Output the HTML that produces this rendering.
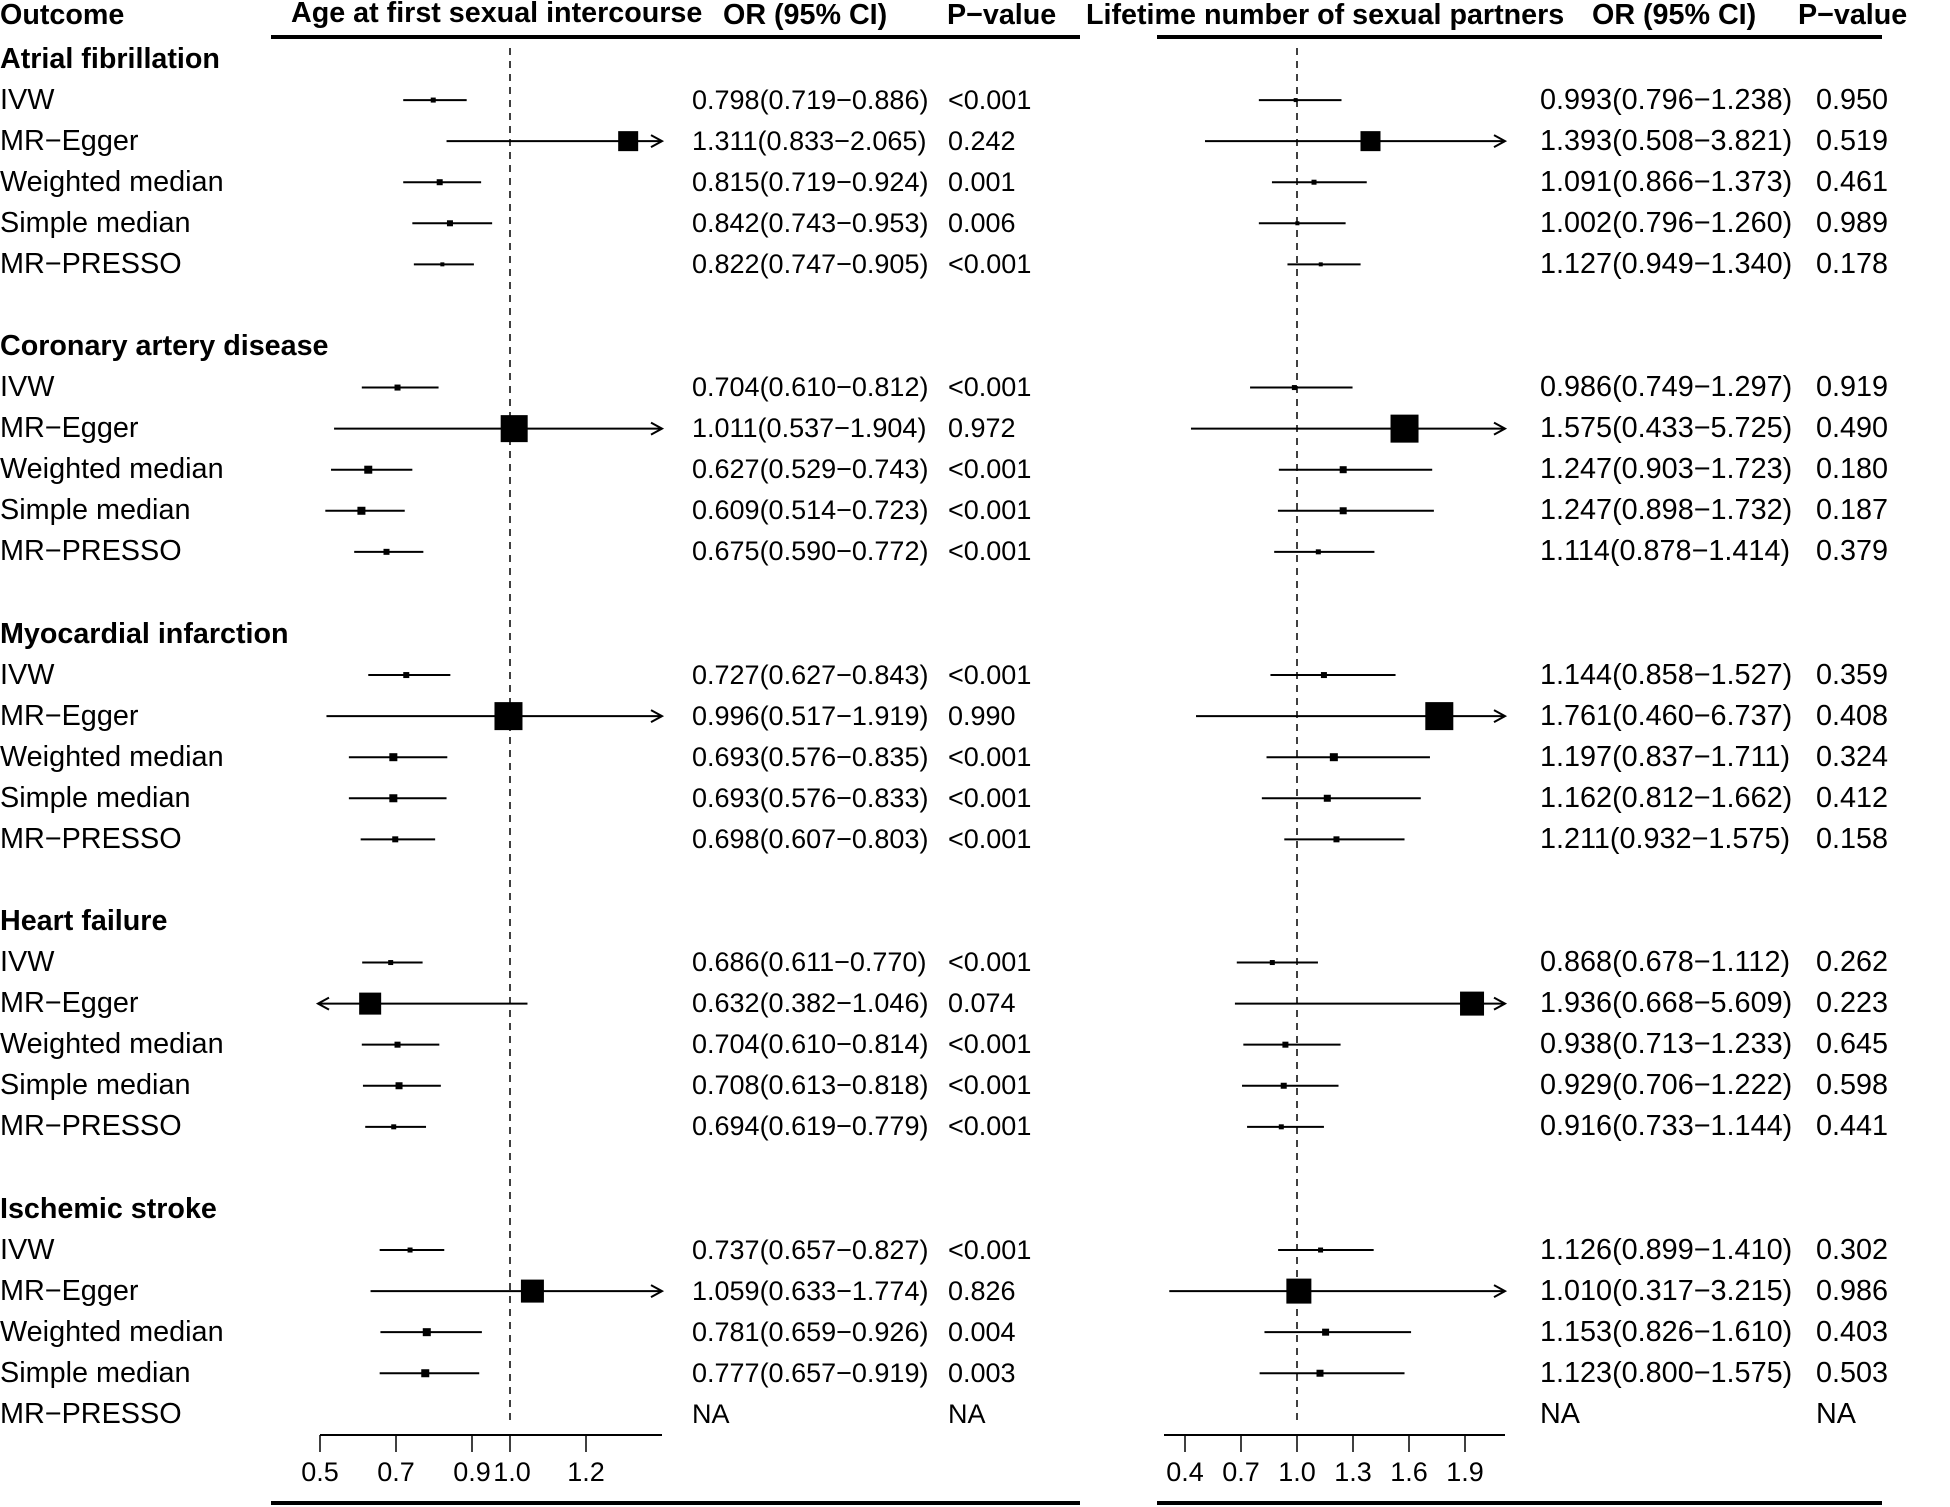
<!DOCTYPE html>
<html><head><meta charset="utf-8"><style>
html,body{margin:0;padding:0;background:#fff}
svg{display:block}
text{font-family:"Liberation Sans",Arial,sans-serif;font-size:27px;fill:#000}
.b{font-weight:bold;font-size:28.7px}
.l{font-size:28.8px}
.r{font-size:28.8px}
</style></head><body>
<svg id="s" width="1950" height="1507" viewBox="0 0 1950 1507" xmlns="http://www.w3.org/2000/svg">
<rect width="1950" height="1507" fill="#fff"/>
<text class="b" x="0" y="24">Outcome</text>
<text class="b" x="291" y="22">Age at first sexual intercourse</text>
<text class="b" x="723" y="24">OR (95% CI)</text>
<text class="b" x="947" y="24">P−value</text>
<text class="b" x="1086" y="24">Lifetime number of sexual partners</text>
<text class="b" x="1592" y="24">OR (95% CI)</text>
<text class="b" x="1798" y="24">P−value</text>
<rect x="271" y="35" width="809" height="4" fill="#000"/>
<rect x="1157" y="35" width="725" height="4" fill="#000"/>
<rect x="271" y="1501" width="809" height="4" fill="#000"/>
<rect x="1157" y="1501" width="725" height="4" fill="#000"/>
<line x1="510" y1="48" x2="510" y2="1425" stroke="#000" stroke-width="1.5" stroke-dasharray="7,6"/>
<line x1="1297" y1="48" x2="1297" y2="1425" stroke="#000" stroke-width="1.5" stroke-dasharray="7,6"/>
<g id="shapes"></g>
<line x1="320" y1="1435" x2="662" y2="1435" stroke="#000" stroke-width="2"/>
<g stroke="#000" stroke-width="1.5">
<line x1="320" y1="1435" x2="320" y2="1452"/><line x1="396" y1="1435" x2="396" y2="1452"/><line x1="472" y1="1435" x2="472" y2="1452"/><line x1="510" y1="1435" x2="510" y2="1452"/><line x1="586" y1="1435" x2="586" y2="1452"/>
</g>
<line x1="1164" y1="1435" x2="1505" y2="1435" stroke="#000" stroke-width="2"/>
<g stroke="#000" stroke-width="1.5">
<line x1="1185" y1="1435" x2="1185" y2="1452"/><line x1="1241" y1="1435" x2="1241" y2="1452"/><line x1="1297" y1="1435" x2="1297" y2="1452"/><line x1="1353" y1="1435" x2="1353" y2="1452"/><line x1="1409" y1="1435" x2="1409" y2="1452"/><line x1="1465" y1="1435" x2="1465" y2="1452"/>
</g>
<g text-anchor="middle">
<text x="320" y="1481">0.5</text><text x="396" y="1481">0.7</text><text x="472" y="1481">0.9</text><text x="512" y="1481">1.0</text><text x="586" y="1481">1.2</text>
<text x="1185" y="1481">0.4</text><text x="1241" y="1481">0.7</text><text x="1297" y="1481">1.0</text><text x="1353" y="1481">1.3</text><text x="1409" y="1481">1.6</text><text x="1465" y="1481">1.9</text>
</g>
<g>
<text class="b" x="0" y="68">Atrial fibrillation</text>
<text class="l" x="0" y="109">IVW</text><text x="692" y="109">0.798(0.719−0.886)</text><text x="948" y="109">&lt;0.001</text><text class="r" x="1540" y="109">0.993(0.796−1.238)</text><text class="r" x="1816" y="109">0.950</text>
<text class="l" x="0" y="150">MR−Egger</text><text x="692" y="150">1.311(0.833−2.065)</text><text x="948" y="150">0.242</text><text class="r" x="1540" y="150">1.393(0.508−3.821)</text><text class="r" x="1816" y="150">0.519</text>
<text class="l" x="0" y="191">Weighted median</text><text x="692" y="191">0.815(0.719−0.924)</text><text x="948" y="191">0.001</text><text class="r" x="1540" y="191">1.091(0.866−1.373)</text><text class="r" x="1816" y="191">0.461</text>
<text class="l" x="0" y="232">Simple median</text><text x="692" y="232">0.842(0.743−0.953)</text><text x="948" y="232">0.006</text><text class="r" x="1540" y="232">1.002(0.796−1.260)</text><text class="r" x="1816" y="232">0.989</text>
<text class="l" x="0" y="273">MR−PRESSO</text><text x="692" y="273">0.822(0.747−0.905)</text><text x="948" y="273">&lt;0.001</text><text class="r" x="1540" y="273">1.127(0.949−1.340)</text><text class="r" x="1816" y="273">0.178</text>

<text class="b" x="0" y="355">Coronary artery disease</text>
<text class="l" x="0" y="396">IVW</text><text x="692" y="396">0.704(0.610−0.812)</text><text x="948" y="396">&lt;0.001</text><text class="r" x="1540" y="396">0.986(0.749−1.297)</text><text class="r" x="1816" y="396">0.919</text>
<text class="l" x="0" y="437">MR−Egger</text><text x="692" y="437">1.011(0.537−1.904)</text><text x="948" y="437">0.972</text><text class="r" x="1540" y="437">1.575(0.433−5.725)</text><text class="r" x="1816" y="437">0.490</text>
<text class="l" x="0" y="478">Weighted median</text><text x="692" y="478">0.627(0.529−0.743)</text><text x="948" y="478">&lt;0.001</text><text class="r" x="1540" y="478">1.247(0.903−1.723)</text><text class="r" x="1816" y="478">0.180</text>
<text class="l" x="0" y="519">Simple median</text><text x="692" y="519">0.609(0.514−0.723)</text><text x="948" y="519">&lt;0.001</text><text class="r" x="1540" y="519">1.247(0.898−1.732)</text><text class="r" x="1816" y="519">0.187</text>
<text class="l" x="0" y="560">MR−PRESSO</text><text x="692" y="560">0.675(0.590−0.772)</text><text x="948" y="560">&lt;0.001</text><text class="r" x="1540" y="560">1.114(0.878−1.414)</text><text class="r" x="1816" y="560">0.379</text>

<text class="b" x="0" y="643">Myocardial infarction</text>
<text class="l" x="0" y="684">IVW</text><text x="692" y="684">0.727(0.627−0.843)</text><text x="948" y="684">&lt;0.001</text><text class="r" x="1540" y="684">1.144(0.858−1.527)</text><text class="r" x="1816" y="684">0.359</text>
<text class="l" x="0" y="725">MR−Egger</text><text x="692" y="725">0.996(0.517−1.919)</text><text x="948" y="725">0.990</text><text class="r" x="1540" y="725">1.761(0.460−6.737)</text><text class="r" x="1816" y="725">0.408</text>
<text class="l" x="0" y="766">Weighted median</text><text x="692" y="766">0.693(0.576−0.835)</text><text x="948" y="766">&lt;0.001</text><text class="r" x="1540" y="766">1.197(0.837−1.711)</text><text class="r" x="1816" y="766">0.324</text>
<text class="l" x="0" y="807">Simple median</text><text x="692" y="807">0.693(0.576−0.833)</text><text x="948" y="807">&lt;0.001</text><text class="r" x="1540" y="807">1.162(0.812−1.662)</text><text class="r" x="1816" y="807">0.412</text>
<text class="l" x="0" y="848">MR−PRESSO</text><text x="692" y="848">0.698(0.607−0.803)</text><text x="948" y="848">&lt;0.001</text><text class="r" x="1540" y="848">1.211(0.932−1.575)</text><text class="r" x="1816" y="848">0.158</text>

<text class="b" x="0" y="930">Heart failure</text>
<text class="l" x="0" y="971">IVW</text><text x="692" y="971">0.686(0.611−0.770)</text><text x="948" y="971">&lt;0.001</text><text class="r" x="1540" y="971">0.868(0.678−1.112)</text><text class="r" x="1816" y="971">0.262</text>
<text class="l" x="0" y="1012">MR−Egger</text><text x="692" y="1012">0.632(0.382−1.046)</text><text x="948" y="1012">0.074</text><text class="r" x="1540" y="1012">1.936(0.668−5.609)</text><text class="r" x="1816" y="1012">0.223</text>
<text class="l" x="0" y="1053">Weighted median</text><text x="692" y="1053">0.704(0.610−0.814)</text><text x="948" y="1053">&lt;0.001</text><text class="r" x="1540" y="1053">0.938(0.713−1.233)</text><text class="r" x="1816" y="1053">0.645</text>
<text class="l" x="0" y="1094">Simple median</text><text x="692" y="1094">0.708(0.613−0.818)</text><text x="948" y="1094">&lt;0.001</text><text class="r" x="1540" y="1094">0.929(0.706−1.222)</text><text class="r" x="1816" y="1094">0.598</text>
<text class="l" x="0" y="1135">MR−PRESSO</text><text x="692" y="1135">0.694(0.619−0.779)</text><text x="948" y="1135">&lt;0.001</text><text class="r" x="1540" y="1135">0.916(0.733−1.144)</text><text class="r" x="1816" y="1135">0.441</text>

<text class="b" x="0" y="1218">Ischemic stroke</text>
<text class="l" x="0" y="1259">IVW</text><text x="692" y="1259">0.737(0.657−0.827)</text><text x="948" y="1259">&lt;0.001</text><text class="r" x="1540" y="1259">1.126(0.899−1.410)</text><text class="r" x="1816" y="1259">0.302</text>
<text class="l" x="0" y="1300">MR−Egger</text><text x="692" y="1300">1.059(0.633−1.774)</text><text x="948" y="1300">0.826</text><text class="r" x="1540" y="1300">1.010(0.317−3.215)</text><text class="r" x="1816" y="1300">0.986</text>
<text class="l" x="0" y="1341">Weighted median</text><text x="692" y="1341">0.781(0.659−0.926)</text><text x="948" y="1341">0.004</text><text class="r" x="1540" y="1341">1.153(0.826−1.610)</text><text class="r" x="1816" y="1341">0.403</text>
<text class="l" x="0" y="1382">Simple median</text><text x="692" y="1382">0.777(0.657−0.919)</text><text x="948" y="1382">0.003</text><text class="r" x="1540" y="1382">1.123(0.800−1.575)</text><text class="r" x="1816" y="1382">0.503</text>
<text class="l" x="0" y="1423">MR−PRESSO</text><text x="692" y="1423">NA</text><text x="948" y="1423">NA</text><text class="r" x="1540" y="1423">NA</text><text class="r" x="1816" y="1423">NA</text>
</g>
</svg>
<script>
(function(){
var L=[
[[.798,.719,.886,5],[1.311,.833,2.065,20],[.815,.719,.924,6],[.842,.743,.953,6],[.822,.747,.905,4]],
[[.704,.610,.812,6],[1.011,.537,1.904,27],[.627,.529,.743,8],[.609,.514,.723,8],[.675,.590,.772,6]],
[[.727,.627,.843,6],[.996,.517,1.919,28],[.693,.576,.835,8],[.693,.576,.833,8],[.698,.607,.803,6]],
[[.686,.611,.770,5],[.632,.382,1.046,22],[.704,.610,.814,6],[.708,.613,.818,7],[.694,.619,.779,5]],
[[.737,.657,.827,5],[1.059,.633,1.774,23],[.781,.659,.926,8],[.777,.657,.919,8],null]];
var R=[
[[.993,.796,1.238,4],[1.393,.508,3.821,20],[1.091,.866,1.373,5],[1.002,.796,1.260,4],[1.127,.949,1.340,4]],
[[.986,.749,1.297,5],[1.575,.433,5.725,28],[1.247,.903,1.723,7],[1.247,.898,1.732,7],[1.114,.878,1.414,5]],
[[1.144,.858,1.527,6],[1.761,.460,6.737,28],[1.197,.837,1.711,8],[1.162,.812,1.662,7],[1.211,.932,1.575,6]],
[[.868,.678,1.112,5],[1.936,.668,5.609,24],[.938,.713,1.233,6],[.929,.706,1.222,6],[.916,.733,1.144,5]],
[[1.126,.899,1.410,5],[1.010,.317,3.215,25],[1.153,.826,1.610,7],[1.123,.800,1.575,7],null]];
var g=document.getElementById('shapes'),h='';
function draw(D,x0,sc,xmin,xmax){
 D.forEach(function(grp,gi){grp.forEach(function(r,mi){
  if(!r)return;var y=59+41.07*(gi*7+mi+1);
  var X=function(v){return x0+(v-1)*sc};
  var a=X(r[1]),b=X(r[2]),la=false,ra=false;
  if(a<xmin){a=xmin;la=true}if(b>xmax){b=xmax;ra=true}
  h+='<line x1="'+a+'" y1="'+y+'" x2="'+b+'" y2="'+y+'" stroke="#000" stroke-width="2"/>';
  if(ra)h+='<polyline points="'+(b-11)+','+(y-6)+' '+b+','+y+' '+(b-11)+','+(y+6)+'" fill="none" stroke="#000" stroke-width="2"/>';
  if(la)h+='<polyline points="'+(a+11)+','+(y-6)+' '+a+','+y+' '+(a+11)+','+(y+6)+'" fill="none" stroke="#000" stroke-width="2"/>';
  var s=r[3],c=X(r[0]);
  h+='<rect x="'+(c-s/2)+'" y="'+(y-s/2)+'" width="'+s+'" height="'+s+'" fill="#000"/>';
 })});
}
draw(L,510,380,318,662);
draw(R,1297,187,1160,1505);
g.innerHTML=h;
})();
</script>
</body></html>
